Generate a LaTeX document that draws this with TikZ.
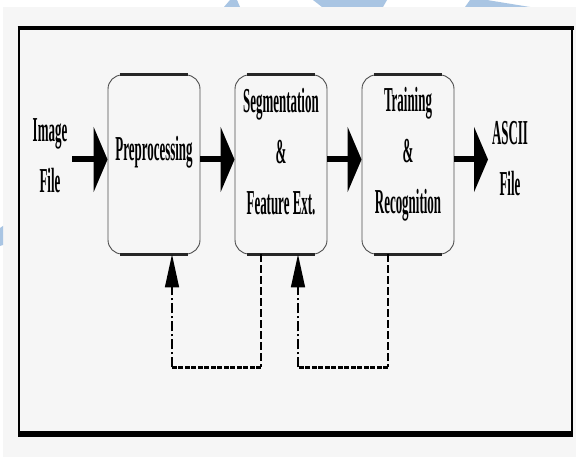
\documentclass[tikz,border=0pt]{standalone}
\usepackage{fontspec}
\newfontfamily\cf[FakeStretch=0.37]{Liberation Serif}
\usetikzlibrary{arrows.meta}
\definecolor{bg}{HTML}{F6F6F6}
\definecolor{wm}{HTML}{A9C5E3}
\begin{document}
\begin{tikzpicture}[x=1pt,y=-1pt,
  box/.style={draw=black!70, line width=0.9pt, rounded corners=14pt, minimum width=92pt, minimum height=179pt, inner sep=0pt},
  lbl/.style={font=\cf\bfseries\fontsize{35}{51}\selectfont, align=center, inner sep=0pt},
  flow/.style={line width=6pt, -{Triangle[length=14pt,width=65pt]}},
  fbtip/.style={-{Triangle[length=33pt,width=14pt]}},
  dashdotline/.style={line width=1.5pt, dash pattern=on 10pt off 3pt on 2pt off 3pt},
  dashline/.style={line width=1.5pt, dash pattern=on 8pt off 3pt},
  dotline/.style={line width=3pt, dash pattern=on 5pt off 1.5pt},
  edge/.style={line width=2.6pt, draw=black!85}]
\useasboundingbox (0,0) rectangle (576,457);
\fill[white] (0,0) rectangle (576,457);
\fill[wm] (224,7) -- (230,0) -- (237,0) -- (240,7) -- cycle;
\fill[wm] (313,0) -- (387,0) -- (383,7) -- (322,7) -- cycle;
\fill[wm] (470,0) -- (487,0) -- (530,7) -- (465,7) -- cycle;
\fill[bg] (3,7) rectangle (576,457);
\fill[wm] (0,228) -- (3,226) -- (3,245) -- (0,246) -- cycle;
% frame
\draw[line width=1.3pt] (19,28) rectangle (572,434);
\draw[line width=4pt] (17.5,28) -- (573.5,28);
\draw[line width=6pt] (18,434) -- (573,434);
% boxes
\node[box] (b1) at (154,164.5) {};
\node[box] (b2) at (281,164.5) {};
\node[box] (b3) at (408,164.5) {};
\foreach \b in {b1,b2,b3}{
  \draw[edge] ([xshift=12pt]\b.north west) -- ([xshift=-12pt]\b.north east);
  \draw[edge] ([xshift=12pt]\b.south west) -- ([xshift=-12pt]\b.south east);
}
% texts
\node[lbl] (imf) at (50,156) {Image\\File};
\node[lbl] (pre) at (154,152) {Preprocessing};
\node[lbl] (seg) at (281,152) {Segmentation\\\&\\Feature Ext.};
\node[lbl] (trn) at (408,154) {Training\\\&\\Recognition};
\node[lbl] (asc) at (510,159) {ASCII\\File};
% flow arrows
\draw[flow] ([yshift=5pt]b1.west -| 72,0) -- ([yshift=5pt]b1.west);
\draw[flow] ([yshift=5pt]b1.east) -- ([yshift=5pt]b2.west);
\draw[flow] ([yshift=5pt]b2.east) -- ([yshift=5pt]b3.west);
\draw[flow] ([yshift=5pt]b3.east) -- ([yshift=5pt]b3.east -| 488,0);
% feedback loops
\draw[dashline] ([xshift=-20pt]b2.south) -- ++(0,113) coordinate (f1);
\draw[dotline] (f1) -- ++(-89,0) coordinate (f2);
\draw[dashdotline,fbtip] (f2) -- (f2 |- b1.south);
\draw[dashline] ([xshift=-20pt]b3.south) -- ++(0,113) coordinate (g1);
\draw[dotline] (g1) -- ++(-90,0) coordinate (g2);
\draw[dashdotline,fbtip] (g2) -- (g2 |- b2.south);
\end{tikzpicture}
\end{document}
